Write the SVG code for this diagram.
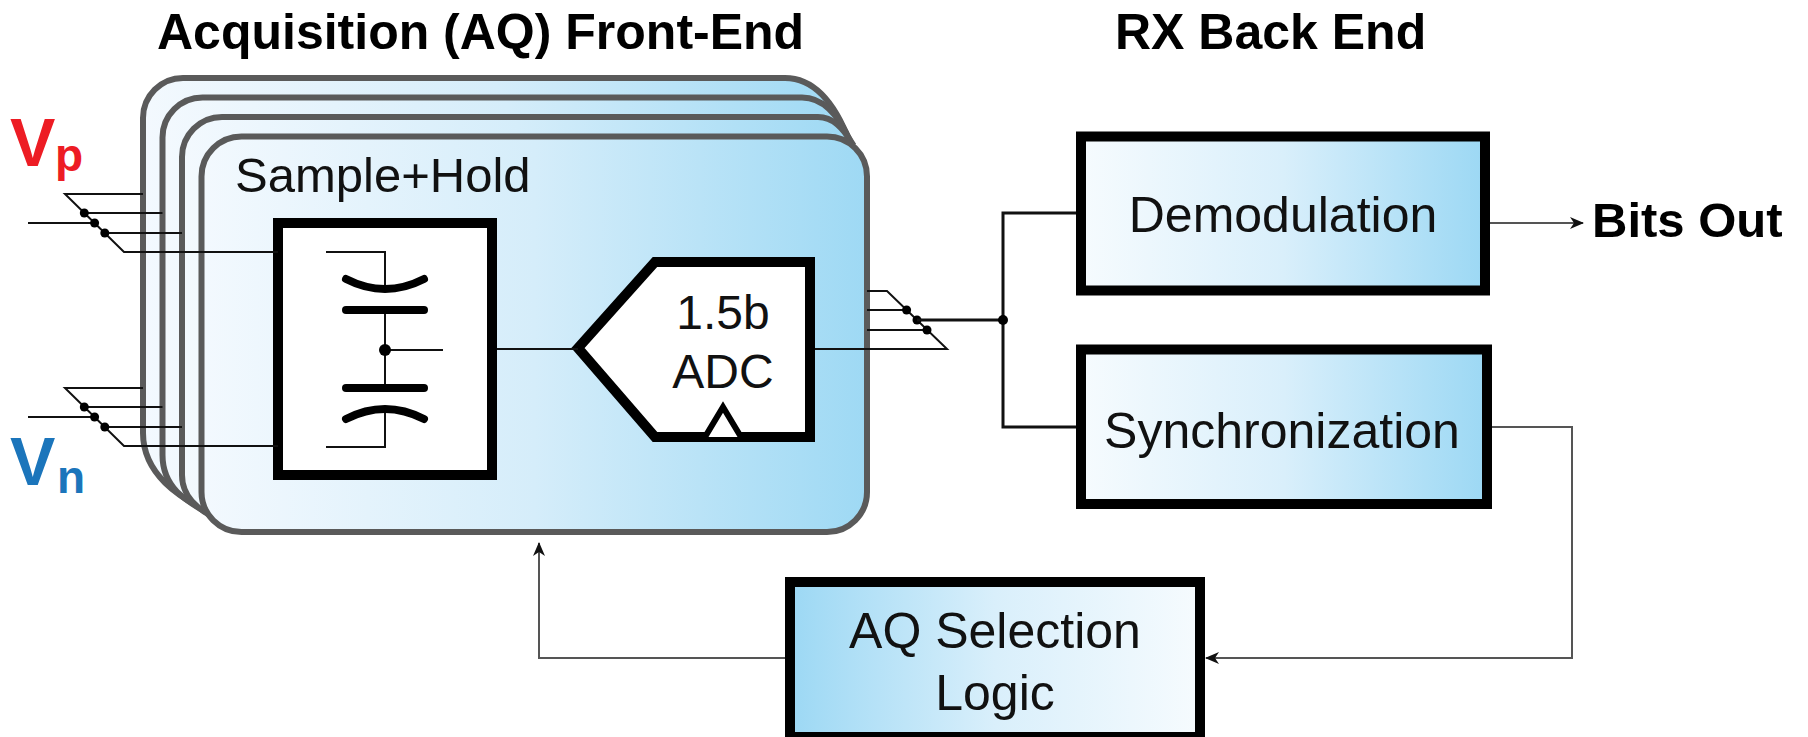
<svg xmlns="http://www.w3.org/2000/svg" width="1808" height="737" viewBox="0 0 1808 737">
<style>
.stack{stroke:#5a5a5a;stroke-width:6;fill:url(#feGrad)}
.blk{stroke:#000;stroke-width:10;fill:url(#rxGrad)}
.wht{stroke:#000;stroke-width:10;fill:#fff}
.t{font-family:"Liberation Sans",Arial,sans-serif;fill:#111}
.b{font-family:"Liberation Sans",Arial,sans-serif;font-weight:bold;fill:#000}
.w{fill:none;stroke:#111;stroke-width:2}
.w3{fill:none;stroke:#111;stroke-width:3}
.g{fill:none;stroke:#555;stroke-width:2}
.plate{fill:none;stroke:#000;stroke-width:8;stroke-linecap:round}
.dot{fill:#000}
</style>
<defs>
<linearGradient id="feGrad" x1="0" y1="0" x2="1" y2="0">
<stop offset="0" stop-color="#f3f9fe"/>
<stop offset="0.5" stop-color="#d5edfa"/>
<stop offset="1" stop-color="#9ed9f4"/>
</linearGradient>
<linearGradient id="rxGrad" x1="0" y1="0" x2="1" y2="0">
<stop offset="0" stop-color="#f6fbfe"/>
<stop offset="0.5" stop-color="#d9effb"/>
<stop offset="1" stop-color="#9cd8f4"/>
</linearGradient>
<linearGradient id="aqGrad" x1="0" y1="0" x2="1" y2="0">
<stop offset="0" stop-color="#9cd8f4"/>
<stop offset="0.5" stop-color="#d9effb"/>
<stop offset="1" stop-color="#f6fbfe"/>
</linearGradient>
<marker id="arr" viewBox="0 0 14 12" refX="13" refY="6" markerWidth="14" markerHeight="12" markerUnits="userSpaceOnUse" orient="auto">
<path d="M0,0 L14,6 L0,12 L4,6 Z" fill="#111"/>
</marker>
</defs>
<rect width="1808" height="737" fill="#fff"/>

<g id="titles">
<text class="b" x="157" y="49" font-size="50">Acquisition (AQ) Front-End</text>
<text class="b" x="1115" y="49" font-size="50">RX Back End</text>
</g>

<g id="inputs">
<text x="10" y="166" font-family="Liberation Sans,Arial,sans-serif" font-weight="bold" font-size="68" fill="#ed1c24">V</text>
<text x="55" y="171" font-family="Liberation Sans,Arial,sans-serif" font-weight="bold" font-size="46" fill="#ed1c24">p</text>
<text x="10" y="485" font-family="Liberation Sans,Arial,sans-serif" font-weight="bold" font-size="68" fill="#1b75bb">V</text>
<text x="57" y="493" font-family="Liberation Sans,Arial,sans-serif" font-weight="bold" font-size="46" fill="#1b75bb">n</text>
</g>

<g id="frontend">
<path class="stack" d="M209,513 C180,497 143,475 143,433 V118 A40,40 0 0 1 183,78 H785 C812,78 834,100 850,143 Z"/>
<path class="stack" d="M211,515 C190,503 162.5,490 162.5,455 V137.5 A40,40 0 0 1 202.5,97.5 H802 C823,97.5 839,115 851,143 Z"/>
<path class="stack" d="M213,517 C198,509 182,497 182,475 V157 A40,40 0 0 1 222,117 H818 C833,117 843,128 852,143 Z"/>
<rect class="stack" x="201.5" y="136.5" width="665.5" height="395.5" rx="40" ry="40"/>
<text class="t" x="235" y="192" font-size="49">Sample+Hold</text>
</g>

<g id="sample-hold">
<rect class="wht" x="278" y="223" width="214" height="252"/>
<path class="w" d="M326,252 H385 V289 M385,310 V388 M385,408 V447 H326 M385,350 H443"/>
<path class="plate" d="M346,279 Q385,299 424,279"/>
<path class="plate" d="M346,310 H424"/>
<path class="plate" d="M346,388 H424"/>
<path class="plate" d="M346,419 Q385,399 424,419"/>
<circle class="dot" cx="385" cy="350" r="6"/>
</g>

<g id="adc">
<path class="wht" d="M578,348 L655,262 H810 V437 H655 Z"/>
<path fill="#fff" stroke="#000" stroke-width="6" d="M705,437 L723,407 L741,437"/>
<text class="t" x="723" y="329" font-size="48" text-anchor="middle">1.5b</text>
<text class="t" x="723" y="388" font-size="48" text-anchor="middle">ADC</text>
</g>

<g id="demod">
<rect class="blk" x="1081" y="136.5" width="404" height="154"/>
<text class="t" x="1283" y="232" font-size="50" text-anchor="middle">Demodulation</text>
</g>

<g id="sync">
<rect class="blk" x="1081" y="349.5" width="406" height="154.5"/>
<text class="t" x="1282" y="448" font-size="50" text-anchor="middle">Synchronization</text>
</g>

<g id="aqsel">
<rect x="790" y="582" width="410" height="155" stroke="#000" stroke-width="10" fill="url(#aqGrad)"/>
<text class="t" x="995" y="648" font-size="50" text-anchor="middle">AQ Selection</text>
<text class="t" x="995" y="710" font-size="50" text-anchor="middle">Logic</text>
</g>

<g id="bitsout">
<text class="b" x="1592" y="237" font-size="49">Bits Out</text>
</g>

<g id="connectors">
<path class="w" d="M143,194 H65 L124,252 H278 M84.3,213 H162.5 M104.8,233 H182 M28,223 H94.6"/>
<circle class="dot" cx="84.3" cy="213" r="4.5"/>
<circle class="dot" cx="94.6" cy="223" r="4.5"/>
<circle class="dot" cx="104.8" cy="233" r="4.5"/>
<path class="w" d="M143,388 H65 L124,446 H278 M84.3,407 H162.5 M104.8,427 H182 M28,417 H94.6"/>
<circle class="dot" cx="84.3" cy="407" r="4.5"/>
<circle class="dot" cx="94.6" cy="417" r="4.5"/>
<circle class="dot" cx="104.8" cy="427" r="4.5"/>
<path class="w" d="M497,349 H578"/>
<path class="w" d="M815,349 H947 L887,291 H867 M867,310 H906.6 M867,330 H927"/>
<circle class="dot" cx="906.6" cy="310" r="4.5"/>
<circle class="dot" cx="917" cy="320" r="4.5"/>
<circle class="dot" cx="927" cy="330" r="4.5"/>
<path class="w3" d="M917,320 H1003 M1076,213 H1003 V427 H1076"/>
<circle class="dot" cx="1003" cy="320" r="5"/>
<path class="g" d="M1490,223 H1583" marker-end="url(#arr)"/>
<path class="g" d="M1492,427 H1572 V658 H1206" marker-end="url(#arr)"/>
<path class="g" d="M785,658 H539 V543" marker-end="url(#arr)"/>
</g>
</svg>
